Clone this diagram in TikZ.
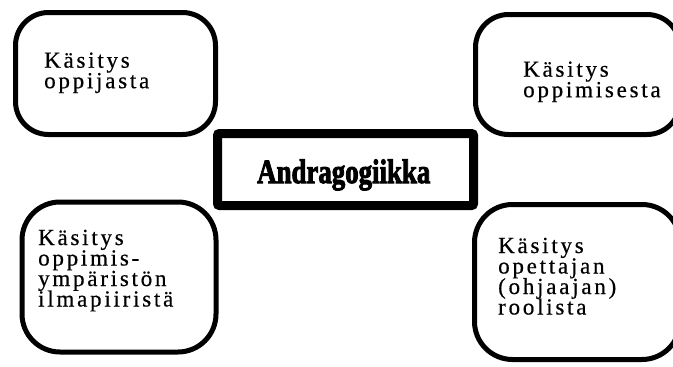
\documentclass[tikz,border=0pt]{standalone}
\usepackage{fontspec}
\usepackage{graphicx}
\setmainfont{Liberation Serif}
\newfontfamily\boxfont[LetterSpace=12,FakeBold=0.5]{Liberation Serif}
\newfontfamily\titlefont[BoldFeatures={FakeBold=3}]{Liberation Serif}
% stacked lines whose reference point is the first baseline
\newcommand\linesstack[1]{\vtop{\baselineskip=20.5pt\lineskiplimit=-20pt #1}}
\newcommand\textrow[1]{\hbox{#1}}
\begin{document}
\begin{tikzpicture}[x=1pt,y=-1pt,
  idea/.style={draw=black,line width=5pt},
  core/.style={draw=black,line width=9pt,rounded corners=2pt},
  words/.style={inner sep=0pt,anchor=base west,font=\boxfont\fontsize{23}{20.5}\selectfont},
  title/.style={inner sep=0pt,anchor=base west,font=\titlefont\bfseries\fontsize{34}{36}\selectfont}]
\useasboundingbox (0,0) rectangle (673,367);
\begin{scope}
\clip (0,0) rectangle (673,367);
% four rounded boxes round the central one
\draw[idea,rounded corners=33pt] (15.5,12.5) rectangle (215.5,134.5);
\draw[idea,rounded corners=33pt] (475.5,14.5) rectangle (680,134.5);
\draw[idea,rounded corners=38pt] (22,202) rectangle (216,352);
\draw[idea,rounded corners=38pt] (474.5,204.5) rectangle (680,359.5);
% central frame
\draw[core] (217.5,133.5) rectangle (473.5,205.5);
\end{scope}
\node[title] (core) at (257,183) {\scalebox{0.79}[1]{Andragogiikka}};
\node[words] (learner) at (44,67.7) {\linesstack{\textrow{Käsitys}\textrow{oppijasta}}};
\node[words] (learning) at (523,76.7) {\linesstack{\textrow{Käsitys}\textrow{oppimisesta}}};
\node[words] (climate) at (38,245) {\linesstack{\textrow{Käsitys}\textrow{oppimis-}\textrow{ympäristön}\textrow{ilmapiiristä}}};
\node[words] (teacher) at (498,253) {\linesstack{\textrow{Käsitys}\textrow{opettajan}\textrow{(ohjaajan)}\textrow{roolista}}};
\end{tikzpicture}
\end{document}
